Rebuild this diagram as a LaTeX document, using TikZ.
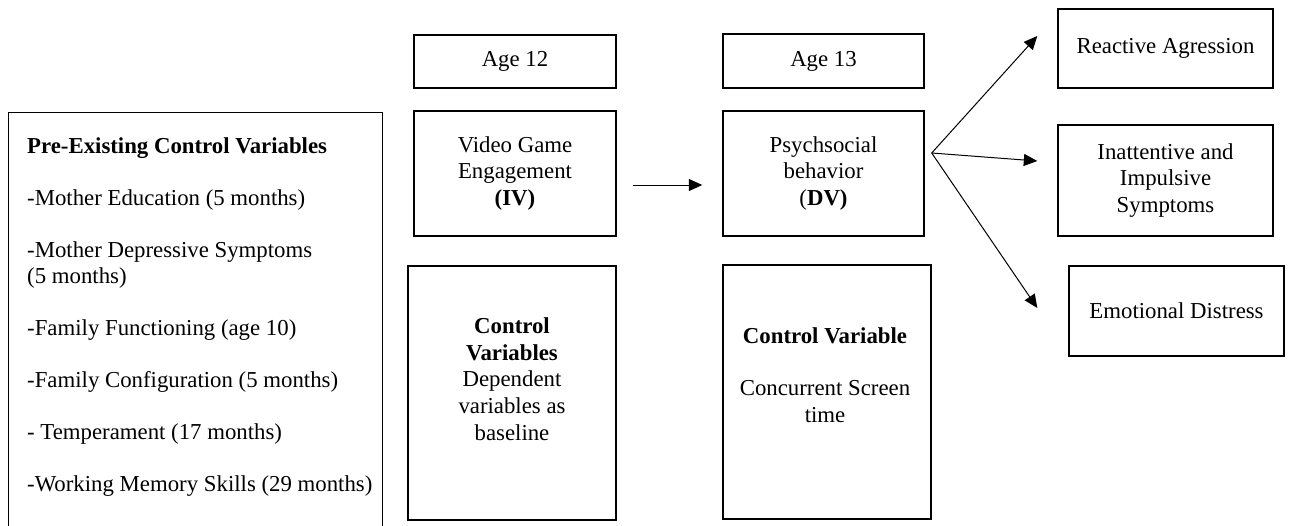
\documentclass[tikz,border=0pt]{standalone}
\usepackage{fontspec}
\setmainfont{Liberation Serif}
\usetikzlibrary{arrows.meta}
\newcommand\diagfont{\fontsize{22.8}{26.8}\selectfont}

\begin{document}
\begin{tikzpicture}[x=1pt,y=-1pt,
  box/.style={draw, line width=1.4pt, inner sep=0pt, align=center, font=\diagfont},
  txt/.style={inner sep=0pt, font=\diagfont},
  arr/.style={line width=1pt, -{Triangle[length=13.5pt,width=12pt]}}]
\useasboundingbox (0,0) rectangle (1289,525);
\clip (0,0) rectangle (1289,525);

% left panel: pre-existing controls (runs past the lower edge)
\node[box, minimum width=374, minimum height=440, anchor=north west] (pre) at (8,112) {};
\node[txt, anchor=north west, align=left] (pretext) at (27,137) {%
  \textbf{Pre-Existing Control Variables}\\[25.2pt]
  -Mother Education (5 months)\\[25.2pt]
  -Mother Depressive Symptoms\\
  (5 months)\\[25.2pt]
  -Family Functioning (age 10)\\[25.2pt]
  -Family Configuration (5 months)\\[25.2pt]
  - Temperament (17 months)\\[25.2pt]
  -Working Memory Skills (29 months)};

% age 12 column
\node[box, minimum width=202, minimum height=53] (age12) at (515,61.5) {Age 12};
\node[box, minimum width=202, minimum height=125] (iv) at (515,173.5)
  {Video Game\\Engagement\\\textbf{(IV)}};
\node[box, minimum width=208, minimum height=254] (cv12) at (512,393) {};
\node[txt, align=center] (cv12text) at (512,379)
  {\textbf{Control}\\\textbf{Variables}\\Dependent\\variables as\\baseline};

% age 13 column
\node[box, minimum width=201, minimum height=54] (age13) at (823.5,61) {Age 13};
\node[box, minimum width=201, minimum height=125] (dv) at (823.5,173.5)
  {Psychsocial\\behavior\\(\textbf{DV)}};
\node[box, minimum width=208, minimum height=254] (cv13) at (827,392) {};
\node[txt, align=center] (cv13text) at (825,375)
  {\textbf{Control Variable}\\[25.2pt]Concurrent Screen\\time};

% outcomes
\node[box, minimum width=215, minimum height=79] (react) at (1165.5,48.5) {Reactive Agression};
\node[box, minimum width=215, minimum height=111] (inatt) at (1165.5,180.5)
  {Inattentive and\\Impulsive\\Symptoms};
\node[box, minimum width=215, minimum height=90] (emo) at (1176.5,311) {Emotional Distress};

% connectors
\draw[arr] ([xshift=16pt,yshift=-11.5pt]iv.east) -- ([xshift=-20pt,yshift=-11.5pt]dv.west);
\coordinate (fan) at ([xshift=7pt,yshift=20.5pt]dv.east);
\draw[arr] (fan) -- ([xshift=-20pt,yshift=12.5pt]react.west);
\draw[arr] (fan) -- ([xshift=-20pt,yshift=19.5pt]inatt.west);
\draw[arr] (fan) -- ([xshift=-31pt,yshift=3pt]emo.west);
\end{tikzpicture}
\end{document}
